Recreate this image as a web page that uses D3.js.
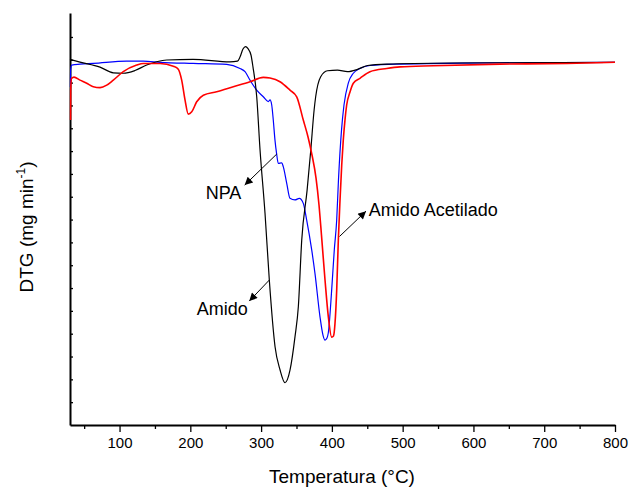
<!DOCTYPE html>
<html>
<head>
<meta charset="utf-8">
<script src="https://cdn.jsdelivr.net/npm/d3@7/dist/d3.min.js"></script>
<style>
  html, body { margin: 0; padding: 0; background: #fff; }
  svg { display: block; font-family: "Liberation Sans", Arial, sans-serif; }
</style>
</head>
<body>
<svg id="chart" width="630" height="489"></svg>
<script>
// Temperature (°C) and DTG (arbitrary units)
const amidoT = [30, 44.1, 72.4, 91.2, 105.3, 121.8, 138.4, 166.6, 203.8, 256.1, 266.6, 270.2, 274.4, 278.0, 281.5, 285.7, 288.5, 293.8, 298.5, 305.5, 311.6, 319.7, 326.8, 333.8, 340.9, 347.9, 352.6, 357.4, 365.0, 370.2, 374.9, 377.1, 384.2, 393.8, 407.9, 422.0, 436.2, 450.3, 478.5, 568.5, 800];
const amidoV = [0.02, -0.10, -0.32, -0.57, -0.59, -0.47, -0.23, -0.01, 0.02, -0.09, -0.06, 0.12, 0.47, 0.58, 0.49, 0.21, -0.31, -1.62, -3.95, -6.71, -9.65, -12.57, -13.59, -14.15, -13.59, -12.13, -10.82, -7.90, -5.71, -3.95, -2.20, -1.62, -0.74, -0.48, -0.45, -0.52, -0.42, -0.25, -0.19, -0.14, -0.11];

const npaT = [30.6, 30.9, 32.4, 44.1, 62.9, 110.1, 133.6, 157.2, 203.8, 251.4, 270.2, 277.3, 284.3, 293.8, 303.1, 310.2, 312.6, 315.0, 317.2, 319.6, 321.8, 324.3, 329.1, 331.4, 336.2, 340.8, 347.9, 354.0, 359.6, 364.4, 371.5, 376.1, 383.2, 387.4, 390.3, 393.1, 394.9, 399.7, 403.4, 406.8, 409.3, 413.6, 417.1, 423.2, 430.3, 439.7, 453.8, 496.2, 637.6, 800];
const npaV = [-1.19, -0.45, -0.23, -0.19, -0.16, -0.06, -0.06, -0.11, -0.16, -0.20, -0.38, -0.52, -0.89, -1.33, -1.62, -1.83, -1.76, -1.98, -2.64, -3.52, -4.09, -4.54, -4.51, -4.69, -5.41, -6.07, -6.14, -6.07, -6.29, -7.02, -8.33, -9.36, -11.26, -12.06, -12.28, -12.19, -11.97, -10.09, -8.33, -7.02, -5.27, -3.08, -1.98, -1.02, -0.59, -0.38, -0.25, -0.19, -0.13, -0.11];

const acetT = [30.8, 31.0, 32.1, 35.7, 44.1, 53.6, 62.9, 72.4, 81.9, 91.2, 105.3, 124.2, 133.6, 157.2, 176.0, 183.0, 187.8, 192.5, 197.1, 202.0, 209.0, 218.4, 237.2, 260.7, 284.3, 303.1, 312.6, 326.7, 340.8, 350.3, 359.6, 366.3, 371.9, 377.6, 381.8, 385.3, 390.3, 395.0, 399.7, 402.3, 404.4, 406.8, 409.1, 411.5, 413.9, 416.1, 418.5, 420.9, 425.6, 430.3, 439.7, 453.8, 477.5, 496.2, 543.3, 637.6, 731.8, 800];
const acetV = [-2.64, -1.33, -0.82, -0.76, -0.89, -1.03, -1.18, -1.22, -1.11, -0.89, -0.52, -0.23, -0.16, -0.16, -0.28, -0.41, -0.89, -1.76, -2.38, -2.28, -1.84, -1.55, -1.40, -1.18, -0.96, -0.77, -0.80, -0.96, -1.33, -1.62, -2.64, -3.38, -4.17, -5.18, -6.36, -7.68, -9.65, -11.26, -12.15, -12.10, -11.55, -10.09, -7.90, -6.14, -4.61, -3.52, -2.64, -1.98, -1.41, -1.03, -0.81, -0.52, -0.38, -0.31, -0.26, -0.19, -0.16, -0.11];

const xMajorTicks = [100, 200, 300, 400, 500, 600, 700, 800];
const xMinorTicks = [50, 150, 250, 350, 450, 550, 650, 750];
const yTicks = [-15, -14, -13, -12, -11, -10, -9, -8, -7, -6, -5, -4, -3, -2, -1, 0, 1];

const labelNames = ["NPA", "Amido", "Amido Acetilado"];
const labelT = [221.7, 209.0, 452.0];
const labelV = [-6.10, -11.18, -6.85];
const arrowFromT = [322.1, 311.6, 410.8];
const arrowFromV = [-4.13, -9.65, -7.74];
const arrowToT = [276.8, 283.3, 448.2];
const arrowToV = [-5.49, -10.57, -6.63];

const svg = d3.select("#chart");
const x = d3.scaleLinear().domain([30, 800]).range([70, 615]);
const y = d3.scaleLinear().domain([-16, 2.05]).range([425, 13]);

// Axes
const xAxis = svg.append("g").attr("transform", "translate(0,425)")
  .call(d3.axisBottom(x).tickValues(xMajorTicks).tickSize(7).tickSizeOuter(0).tickPadding(5));
const xMinor = svg.append("g").attr("transform", "translate(0,425)")
  .call(d3.axisBottom(x).tickValues(xMinorTicks).tickSize(4).tickFormat(""));
xMinor.select(".domain").remove();
xAxis.selectAll("text").attr("font-size", 15).attr("fill", "#000").attr("font-family", "Liberation Sans, Arial, sans-serif");
xAxis.select(".domain").attr("stroke-width", 2);
svg.selectAll(".tick line").attr("stroke", "#000").attr("stroke-width", 1.3);

const yAxis = svg.append("g").attr("transform", "translate(70,0)")
  .call(d3.axisLeft(y).tickValues(yTicks).tickSize(-3).tickSizeOuter(0).tickFormat(""));
yAxis.select(".domain").attr("stroke-width", 2);
yAxis.selectAll(".tick line").attr("stroke-width", 1.3);

// Curves
const line = d3.line().x(d => x(d[0])).y(d => y(d[1])).curve(d3.curveMonotoneX);
const series = [
  {T: npaT, V: npaV, color: "#0000ff", w: 1.2},
  {T: amidoT, V: amidoV, color: "#000000", w: 1.2},
  {T: acetT, V: acetV, color: "#ff0000", w: 1.6}
];
series.forEach(s => {
  svg.append("path")
    .datum(s.T.map((t, i) => [t, s.V[i]]))
    .attr("fill", "none")
    .attr("stroke", s.color)
    .attr("stroke-width", s.w)
    .attr("stroke-linejoin", "round")
    .attr("d", line);
});

// Axis titles
svg.append("text")
  .attr("x", 342).attr("y", 483)
  .attr("text-anchor", "middle")
  .attr("font-size", 19)
  .text("Temperatura (°C)");

const yt = svg.append("text")
  .attr("transform", "translate(33,227) rotate(-90)")
  .attr("text-anchor", "middle")
  .attr("font-size", 19);
yt.append("tspan").text("DTG (mg min");
yt.append("tspan").attr("font-size", 12).attr("dy", -8).text("-1");
yt.append("tspan").attr("dy", 8).text(")");

// Annotations
const defs = svg.append("defs");
defs.append("marker")
  .attr("id", "arrow")
  .attr("markerUnits", "userSpaceOnUse")
  .attr("viewBox", "0 0 10 10")
  .attr("refX", 10).attr("refY", 5)
  .attr("markerWidth", 10).attr("markerHeight", 8)
  .attr("orient", "auto")
  .append("path").attr("d", "M0,0 L10,5 L0,10 Z").attr("fill", "#000");

labelNames.forEach((name, i) => {
  svg.append("line")
    .attr("x1", x(arrowFromT[i])).attr("y1", y(arrowFromV[i]))
    .attr("x2", x(arrowToT[i])).attr("y2", y(arrowToV[i]))
    .attr("stroke", "#000").attr("stroke-width", 1)
    .attr("marker-end", "url(#arrow)");
  svg.append("text")
    .attr("x", x(labelT[i])).attr("y", y(labelV[i]))
    .attr("font-size", 18)
    .text(name);
});
</script>
</body>
</html>
